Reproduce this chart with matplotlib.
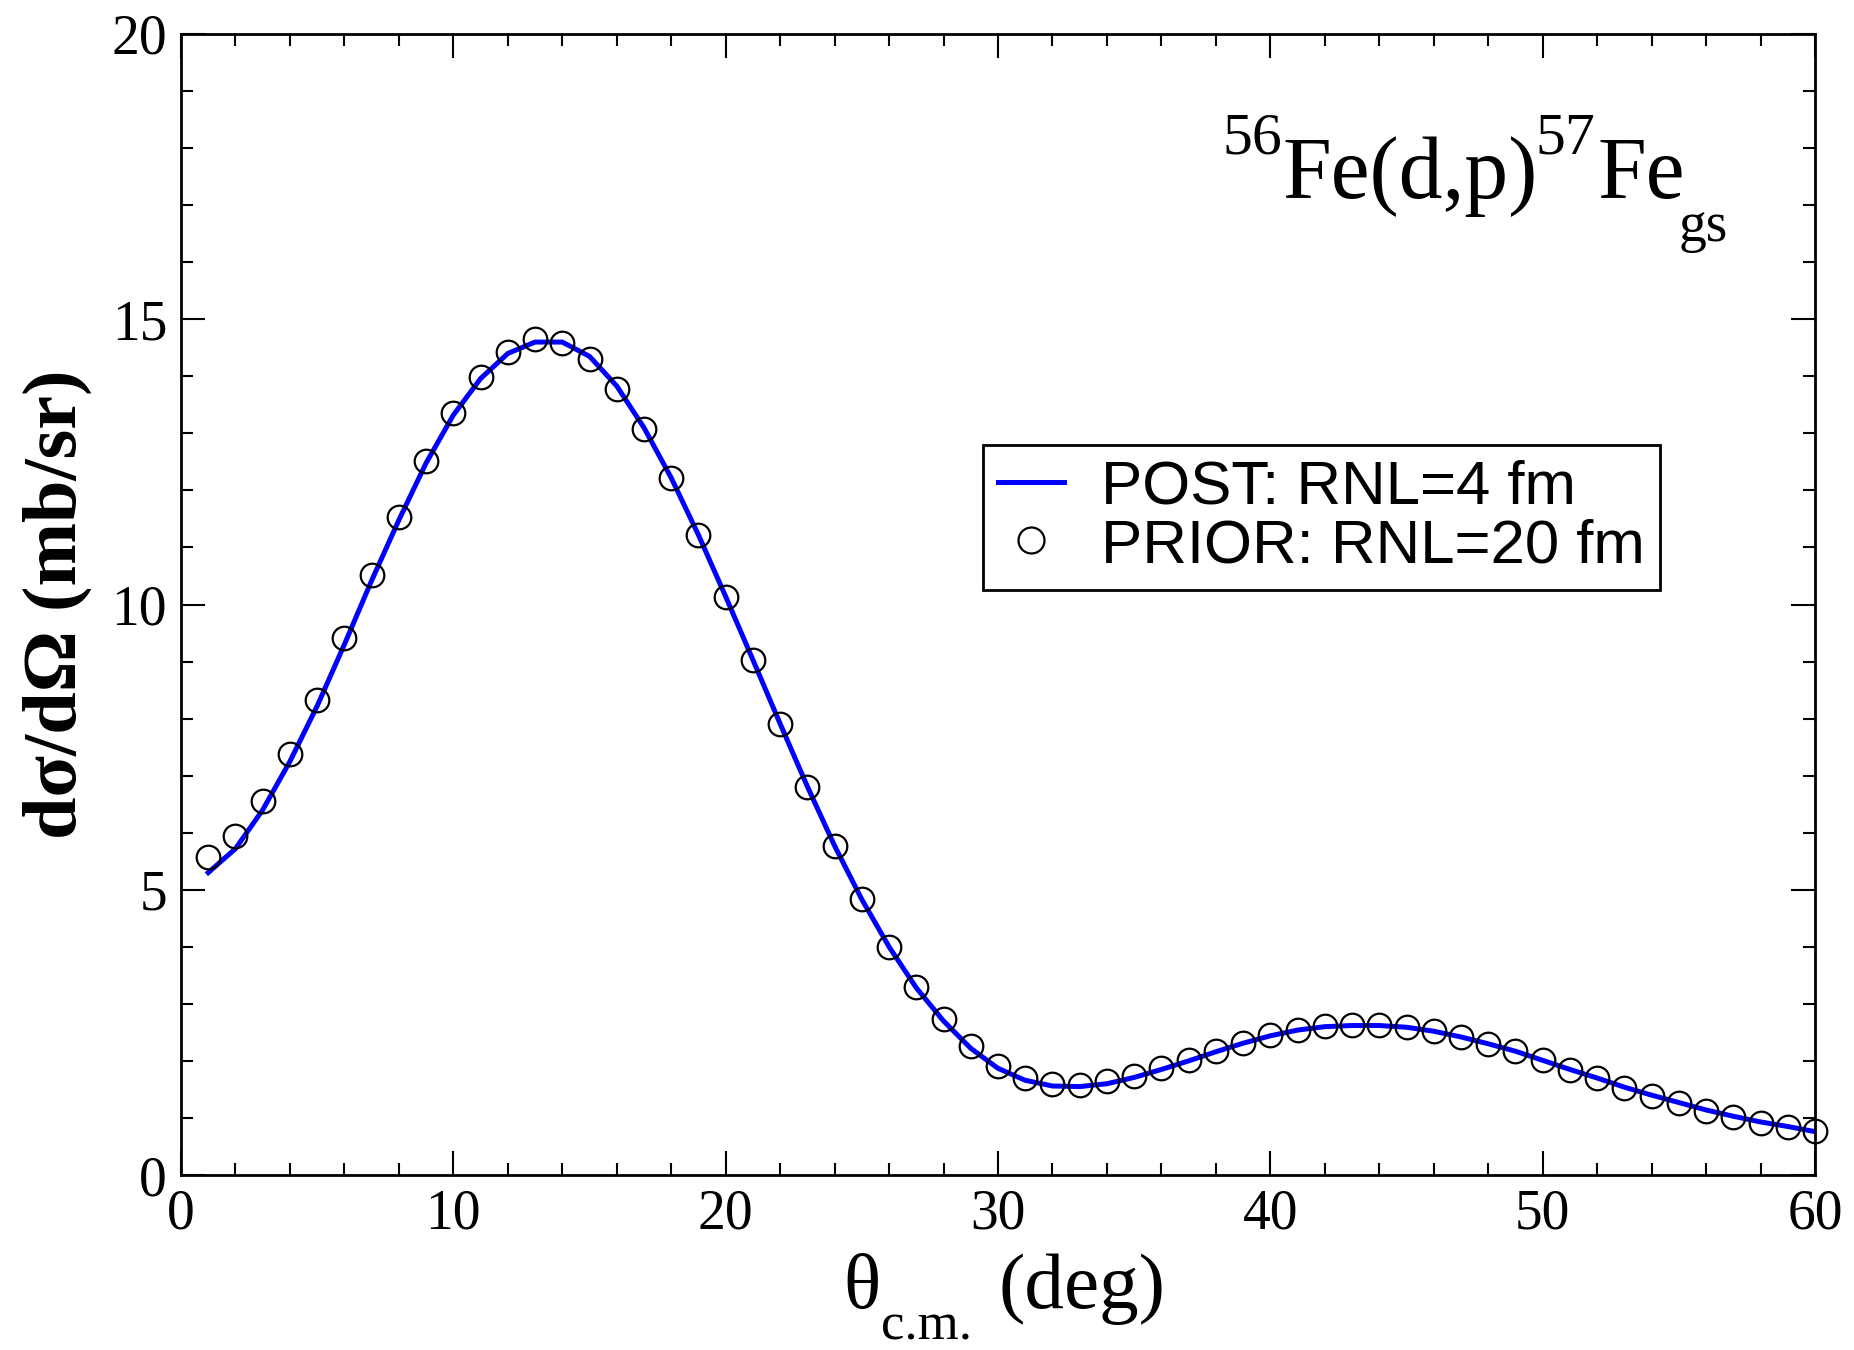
import matplotlib
matplotlib.use("Agg")
import matplotlib.pyplot as plt
from matplotlib.ticker import MultipleLocator

# ---- data ----
theta_prior = list(range(1, 61))
prior = [5.58, 5.95, 6.55, 7.38, 8.33, 9.41, 10.51, 11.54, 12.52, 13.35,
         13.99, 14.42, 14.65, 14.59, 14.30, 13.78, 13.08, 12.21, 11.21, 10.13,
         9.02, 7.90, 6.80, 5.76, 4.83, 4.00, 3.30, 2.74, 2.26, 1.91,
         1.70, 1.60, 1.58, 1.64, 1.74, 1.87, 2.01, 2.18, 2.32, 2.45,
         2.55, 2.61, 2.63, 2.63, 2.59, 2.53, 2.42, 2.30, 2.18, 2.01,
         1.84, 1.70, 1.53, 1.39, 1.26, 1.12, 1.02, 0.91, 0.85, 0.77]
theta_post = list(range(1, 61))
post = [5.30, 5.72, 6.40, 7.25, 8.22, 9.30, 10.42, 11.48, 12.48, 13.32,
        13.96, 14.40, 14.60, 14.60, 14.35, 13.83, 13.10, 12.22, 11.22, 10.14,
        9.03, 7.91, 6.81, 5.77, 4.83, 4.00, 3.28, 2.70, 2.22, 1.87,
        1.66, 1.56, 1.55, 1.60, 1.71, 1.85, 2.00, 2.16, 2.31, 2.44,
        2.54, 2.60, 2.62, 2.62, 2.59, 2.52, 2.42, 2.30, 2.17, 2.01,
        1.85, 1.70, 1.54, 1.40, 1.27, 1.14, 1.03, 0.93, 0.85, 0.76]
labels = ['POST: RNL=4 fm', 'PRIOR: RNL=20 fm']

SERIF = 'Liberation Serif'
W, H = 1854, 1350
fig = plt.figure(figsize=(W / 100, H / 100), dpi=100)
L, R, T, B = 181, 1815, 34, 1175
ax = fig.add_axes([L / W, 1 - B / H, (R - L) / W, (B - T) / H])

ax.plot(theta_post, post, color='#0000ff', lw=3.6, label=labels[0], zorder=2)
ax.plot(theta_prior, prior, ls='none', marker='o', ms=17, mfc='none', mec='black',
        mew=1.6, label=labels[1], zorder=3, clip_on=False)

ax.set_xlim(0, 60)
ax.set_ylim(0, 20)
ax.xaxis.set_major_locator(MultipleLocator(10))
ax.xaxis.set_minor_locator(MultipleLocator(2))
ax.yaxis.set_major_locator(MultipleLocator(5))
ax.yaxis.set_minor_locator(MultipleLocator(1))
ax.tick_params(which='both', direction='in', top=True, right=True, width=1.5)
ax.tick_params(which='major', length=17, labelsize=40, pad=10)
ax.tick_params(which='minor', length=8.5)
for lab in ax.get_xticklabels() + ax.get_yticklabels():
    lab.set_family(SERIF)
for s in ax.spines.values():
    s.set_linewidth(2)

ax.set_ylabel('dσ/dΩ (mb/sr)', family=SERIF, fontsize=55,
              fontweight='bold', labelpad=14)


# text built from pieces (x = left edge, ybase = baseline, both in pixels from top-left)
def put(x, ybase, s, size):
    fig.text(x / W, 1 - ybase / H, s, family=SERIF, fontsize=size,
             ha='left', va='baseline')


# x axis label: θ_c.m. (deg)
put(843, 1308, 'θ', 56)
put(881, 1340, 'c.m.', 38)
put(998, 1308, '(deg)', 57)

# reaction label: 56Fe(d,p)57Fe_gs
put(1222, 153, '56', 43)
put(1282, 198, 'Fe(d,p)', 63)
put(1535, 153, '57', 43)
put(1597, 198, 'Fe', 63)
put(1679, 241, 'gs', 40)

leg = ax.legend(loc='upper left', bbox_to_anchor=(983 / W, 1 - 445 / H),
                bbox_transform=fig.transFigure, borderaxespad=0,
                prop={'family': 'Liberation Sans', 'size': 44.5},
                fancybox=False, edgecolor='black', framealpha=1,
                handlelength=1.07, handletextpad=0.6, labelspacing=0.02,
                borderpad=0.24, markerscale=1.1)
leg.get_frame().set_linewidth(2)

fig.savefig('out.png', dpi=100)
